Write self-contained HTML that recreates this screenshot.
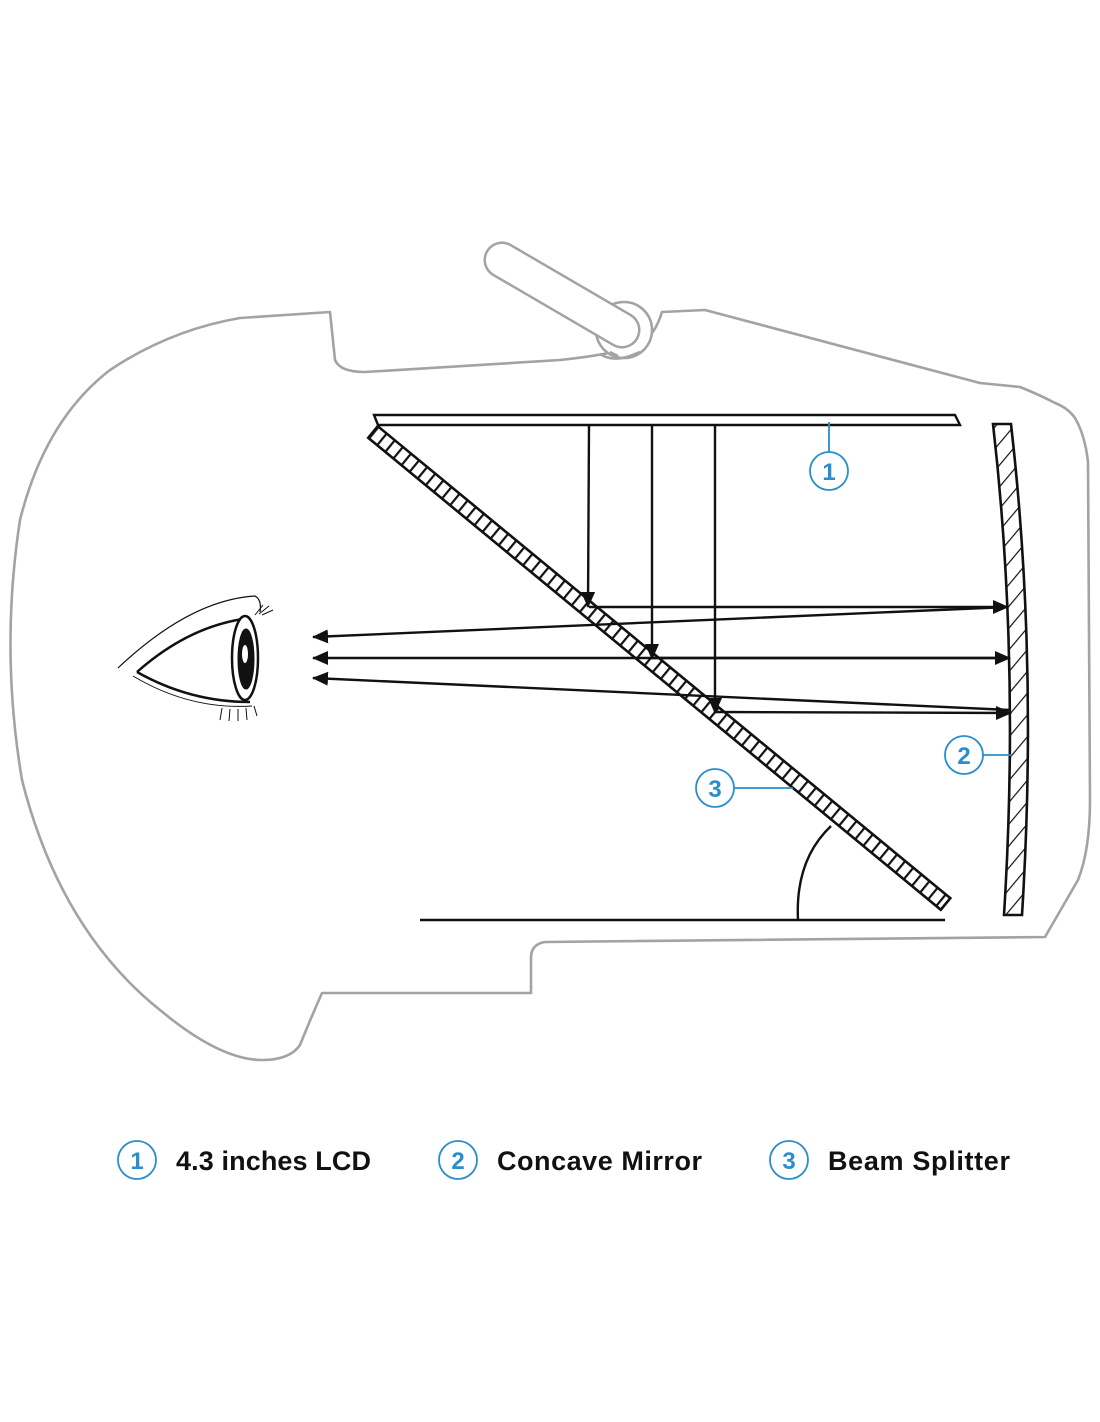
<!DOCTYPE html>
<html><head><style>body{margin:0;background:#fff}svg{display:block}</style></head><body>
<svg width="1100" height="1422" viewBox="0 0 1100 1422" xmlns="http://www.w3.org/2000/svg">
<defs>
<pattern id="rung" patternUnits="userSpaceOnUse" width="10.5" height="20">
<rect width="10.5" height="20" fill="#fff"/><line x1="1" y1="0" x2="1" y2="20" stroke="#111" stroke-width="2.4"/>
</pattern>
<pattern id="h2" patternUnits="userSpaceOnUse" width="14" height="14" patternTransform="rotate(40)">
<rect width="14" height="14" fill="#fff"/><line x1="0" y1="0" x2="0" y2="14" stroke="#111" stroke-width="2.4"/>
</pattern>
<marker id="a" markerWidth="16" markerHeight="14" refX="15" refY="7" orient="auto" markerUnits="userSpaceOnUse"><path d="M0,0 L16,7 L0,14 z" fill="#111"/></marker>
</defs>
<!-- head -->
<g fill="none" stroke="#a3a3a3" stroke-width="2.6" stroke-linejoin="round">
<path d="M330,312 L335,360 Q340,372 365,372 L560,360 Q610,355 640,345 Q655,335 662,312 L705,310 L980,383 L1020,387 Q1040,395 1055,403 Q1068,408 1075,418 Q1085,435 1088,462 L1090,800 Q1090,850 1078,880 L1045,937 L545,942 Q531,944 531,958 L531,993 L322,993 Q310,1020 300,1045 Q290,1060 262,1060 Q220,1060 160,1010 Q60,930 22,780 Q0,650 20,520 Q45,420 110,370 Q170,330 240,318 Z"/>
<circle cx="624" cy="330" r="28" fill="#fff"/>
<line x1="502" y1="260" x2="622" y2="330" stroke-width="37" stroke-linecap="round"/>
<line x1="502" y1="260" x2="622" y2="330" stroke="#fff" stroke-width="32" stroke-linecap="round"/>
<path d="M610,352 L618,356 M640,352 L630,356 Q612,362 600,354" />
</g>
<!-- LCD -->
<path d="M374,415 L955,415 L960,425 L378,425 Z" fill="#fff" stroke="#111" stroke-width="2.4"/>
<!-- beam splitter -->
<g transform="translate(373,432) rotate(39.5)">
<rect x="0" y="-7.5" width="742" height="15" fill="url(#rung)" stroke="#111" stroke-width="2.6"/>
</g>
<!-- mirror -->
<path d="M993,424 L1011,424 Q1038,660 1022,915 L1004,915 Q1020,660 993,424 Z" fill="url(#h2)" stroke="#111" stroke-width="2.6"/>
<!-- rays -->
<g stroke="#111" stroke-width="2.4" fill="none">
<line x1="589" y1="426" x2="588" y2="607" marker-end="url(#a)"/>
<line x1="652" y1="426" x2="652" y2="659" marker-end="url(#a)"/>
<line x1="715" y1="426" x2="715" y2="713" marker-end="url(#a)"/>
<line x1="589" y1="607" x2="1008" y2="607" marker-end="url(#a)"/>
<line x1="652" y1="658" x2="1010" y2="658" marker-end="url(#a)"/>
<line x1="715" y1="712" x2="1011" y2="713" marker-end="url(#a)"/>
<line x1="1008" y1="607" x2="313" y2="637" marker-end="url(#a)"/>
<line x1="1008" y1="658" x2="313" y2="658" marker-end="url(#a)"/>
<line x1="1010" y1="710" x2="313" y2="678" marker-end="url(#a)"/>
<line x1="420" y1="920" x2="945" y2="920"/>
<path d="M798,920 Q795,860 831,826"/>
</g>
<!-- eye -->
<g fill="none" stroke="#111">
<path d="M118,668 Q190,600 255,596 Q262,600 260,612" stroke-width="1.2"/>
<path d="M137,672 Q190,625 250,618" stroke-width="2.5"/>
<path d="M137,672 Q190,702 250,702" stroke-width="2.5"/>
<path d="M133,676 Q190,710 252,706" stroke-width="1"/>
<ellipse cx="245" cy="658" rx="13" ry="42" stroke-width="2.5" fill="#fff"/>
<ellipse cx="246" cy="659" rx="8" ry="30" fill="#111"/>
<ellipse cx="245" cy="654" rx="3" ry="9" fill="#fff" stroke="none"/>
<path d="M255,615 l8,-10 M259,614 l10,-8 M262,615 l11,-5 M222,708 l-2,12 M230,709 l-1,12 M238,709 l0,12 M246,708 l1,12 M254,706 l3,10" stroke-width="1"/>
</g>
<!-- callouts -->
<g stroke="#2a8ecb" stroke-width="1.8" fill="none">
<line x1="829" y1="422" x2="829" y2="452"/><circle cx="829" cy="471" r="19"/>
<line x1="983" y1="755" x2="1012" y2="755"/><circle cx="964" cy="755" r="19"/>
<line x1="734" y1="788" x2="793" y2="788"/><circle cx="715" cy="788" r="19"/>
<circle cx="137" cy="1160" r="19"/><circle cx="458" cy="1160" r="19"/><circle cx="789" cy="1160" r="19"/>
</g>
<g fill="#2a8ecb" font-family="Liberation Sans, sans-serif" font-weight="bold" font-size="24" text-anchor="middle">
<text x="829" y="480">1</text><text x="964" y="764">2</text><text x="715" y="797">3</text>
<text x="137" y="1169">1</text><text x="458" y="1169">2</text><text x="789" y="1169">3</text>
</g>
<g fill="#111" font-family="Liberation Sans, sans-serif" font-weight="bold" font-size="27">
<text x="176" y="1170" textLength="195">4.3 inches LCD</text>
<text x="497" y="1170" textLength="205">Concave Mirror</text>
<text x="828" y="1170" textLength="182">Beam Splitter</text>
</g>
</svg>
</body></html>
